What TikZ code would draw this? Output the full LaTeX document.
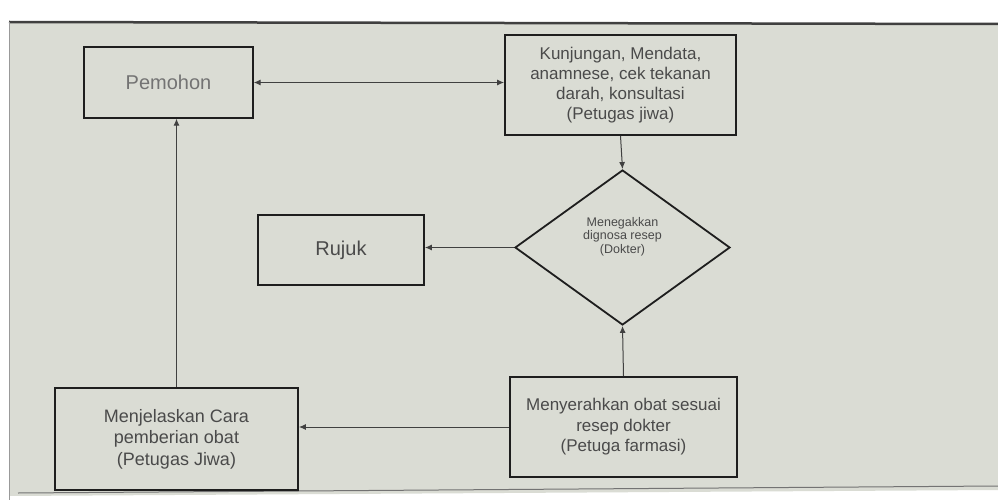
\documentclass[tikz,border=0pt]{standalone}
\usepackage{fontspec}
\setmainfont{Liberation Sans}
\usetikzlibrary{shapes.geometric,arrows.meta}
\definecolor{screen}{HTML}{DADCD4}
\definecolor{txt}{HTML}{4A4A4A}
\definecolor{ln}{HTML}{1E1E1E}
\tikzset{
  box/.style={draw=ln, line width=1.8pt, rectangle, align=center, text=txt, inner sep=2pt},
  decision/.style={draw=ln, line width=1.8pt, diamond, inner sep=0pt},
  dtext/.style={align=center, text=txt, inner sep=0pt},
  conn/.style={draw=ln!85, line width=1pt, -{Latex[length=7pt,width=6pt]}},
  conn2/.style={draw=ln!85, line width=1pt, {Latex[length=7pt,width=6pt]}-{Latex[length=7pt,width=6pt]}}
}
\begin{document}
\begin{tikzpicture}[x=1pt,y=-1pt]
\useasboundingbox (0,0) rectangle (998,500);
\fill[white] (0,0) rectangle (998,500);
\fill[screen] (9,22) -- (998,24) -- (998,490) -- (9,496) -- cycle;
\draw[black!75, line width=2.5pt] (9,22) -- (998,24);
\draw[black!40, line width=0.8pt] (9,22) -- (9,500);
\draw[black!55, line width=1pt] (18,493) -- (998,486);

\node[box, minimum width=169pt, minimum height=71pt, line width=1.4pt, text=black!55, font=\fontsize{20}{24}\selectfont] (pem) at (168.5,82.5) {Pemohon};
\node[box, minimum width=231pt, minimum height=100pt, font=\fontsize{17}{19.8}\selectfont] (kun) at (620.5,85) {Kunjungan, Mendata,\\anamnese, cek tekanan\\darah, konsultasi\\(Petugas jiwa)};
\node[decision, minimum width=215pt, minimum height=155pt] (dia) at (622.5,247.5) {};
\node[dtext, font=\fontsize{12.5}{13.5}\selectfont] (diat) at (622.5,236.5) {Menegakkan\\dignosa resep\\(Dokter)};
\node[box, minimum width=166pt, minimum height=70pt, font=\fontsize{20}{24}\selectfont] (ruj) at (341,250) {Rujuk};
\node[box, minimum width=243pt, minimum height=102pt, font=\fontsize{18}{21.5}\selectfont] (mjl) at (176.5,439) {Menjelaskan Cara\\pemberian obat\\(Petugas Jiwa)};
\node[box, minimum width=227pt, minimum height=100pt, font=\fontsize{17}{20.5}\selectfont] (mny) at (623.5,427) {Menyerahkan obat sesuai\\resep dokter\\(Petuga farmasi)};

\draw[conn2] (pem.east) -- (pem.east -| kun.west);
\draw[conn] (kun.south) -- (dia.north);
\draw[conn] (dia.west) -- (dia.west -| ruj.east);
\draw[conn] (mny.north) -- (dia.south);
\draw[conn] (mny.west) -- (mny.west -| mjl.east);
\draw[conn] (mjl.north) -- (mjl.north |- pem.south);
\end{tikzpicture}
\end{document}
